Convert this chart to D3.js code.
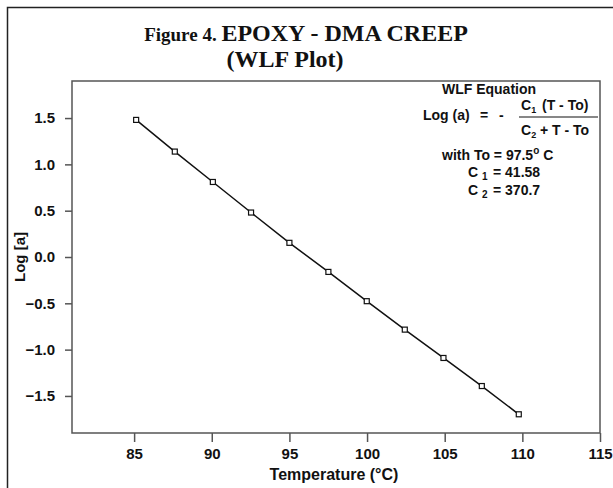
<!DOCTYPE html>
<html>
<head>
<meta charset="utf-8">
<script src="https://cdn.jsdelivr.net/npm/d3@7"></script>
<style>
	body { margin: 0; background: #fff; }
	svg text { font-family: "Liberation Sans", Arial, sans-serif; font-weight: bold; fill: #111; }
	.serif { font-family: "Liberation Serif", "Times New Roman", serif; }
</style>
</head>
<body>
<svg id="chart" width="613" height="488"></svg>
<script>
'use strict';
//Data: temperature (C) and log shift factor
var temps = [85.13, 87.62, 90.07, 92.53, 95.0, 97.51, 99.98, 102.43, 104.92, 107.39, 109.77];
var logA = [1.48, 1.138, 0.81, 0.48, 0.153, -0.161, -0.477, -0.784, -1.09, -1.393, -1.698];
var xTicks = [85, 90, 95, 100, 105, 110, 115];
var yTicks = [1.5, 1.0, 0.5, 0.0, -0.5, -1.0, -1.5];

var svg = d3.select('#chart');

//Plot area
var margin = {left: 72, top: 81, right: 600, bottom: 433};

var x = d3.scaleLinear().domain([81, 115]).range([margin.left, margin.right]);
var y = d3.scaleLinear().domain([-1.9, 1.9]).range([margin.bottom, margin.top]);

//Outer frame (runs past the page edge on right/bottom)
svg.append('path')
	.attr('d', 'M7.5,490V7.5H615')
	.attr('fill', 'none')
	.attr('stroke', '#222')
	.attr('stroke-width', 1.5);

//Title
var title = svg.append('text')
	.attr('class', 'serif')
	.attr('x', 306).attr('y', 41)
	.attr('text-anchor', 'middle');
title.append('tspan').style('font-size', '19px').text('Figure 4. ');
title.append('tspan').style('font-size', '24px').text('EPOXY - DMA CREEP');
svg.append('text')
	.attr('class', 'serif')
	.attr('x', 285).attr('y', 67)
	.attr('text-anchor', 'middle')
	.style('font-size', '24px')
	.text('(WLF Plot)');

//Plot box
svg.append('rect')
	.attr('x', margin.left).attr('y', margin.top)
	.attr('width', margin.right - margin.left)
	.attr('height', margin.bottom - margin.top)
	.attr('fill', 'none')
	.attr('stroke', '#555')
	.attr('stroke-width', 1.5);

//Axes
var xAxis = svg.append('g')
	.attr('transform', 'translate(0,' + margin.bottom + ')')
	.call(d3.axisBottom(x).tickValues(xTicks).tickSize(9).tickPadding(6)
		.tickFormat(d3.format('d')));
var yAxis = svg.append('g')
	.attr('transform', 'translate(' + margin.left + ',0)')
	.call(d3.axisLeft(y).tickValues(yTicks).tickSize(7).tickPadding(10)
		.tickFormat(d3.format('.1f')));
[xAxis, yAxis].forEach(function(a) {
	a.select('.domain').remove();
	a.selectAll('.tick line').attr('stroke', '#555').attr('stroke-width', 1.5);
	a.selectAll('.tick text').style('font-size', '15px')
		.style('font-family', '"Liberation Sans", Arial, sans-serif')
		.style('font-weight', 'bold').attr('fill', '#111');
});

//Axis titles
svg.append('text')
	.attr('x', 334).attr('y', 480)
	.attr('text-anchor', 'middle')
	.style('font-size', '16px')
	.text('Temperature (\u00B0C)');
svg.append('text')
	.attr('transform', 'translate(25,257) rotate(-90)')
	.attr('text-anchor', 'middle')
	.style('font-size', '15px')
	.text('Log [a]');

//Data line and markers
var pts = temps.map(function(t, i) { return [t, logA[i]]; });
svg.append('path')
	.datum(pts)
	.attr('fill', 'none')
	.attr('stroke', '#111')
	.attr('stroke-width', 1.5)
	.attr('d', d3.line().x(function(d) { return x(d[0]); }).y(function(d) { return y(d[1]); }));
svg.selectAll('rect.pt')
	.data(pts)
	.enter().append('rect')
		.attr('class', 'pt')
		.attr('x', function(d) { return x(d[0]) - 2.5; })
		.attr('y', function(d) { return y(d[1]) - 2.5; })
		.attr('width', 5).attr('height', 5)
		.attr('fill', '#fff')
		.attr('stroke', '#111')
		.attr('stroke-width', 1.2);

//WLF equation annotation
var eq = svg.append('g').style('font-size', '14px');
eq.append('text').attr('x', 489).attr('y', 94).attr('text-anchor', 'middle').text('WLF Equation');
eq.append('text').attr('x', 423).attr('y', 120).text('Log (a)');
eq.append('text').attr('x', 480).attr('y', 120).text('=');
eq.append('text').attr('x', 499).attr('y', 120).text('-');
var num = eq.append('text').attr('x', 521).attr('y', 110);
num.append('tspan').text('C');
num.append('tspan').attr('dy', 3).style('font-size', '9px').text('1');
num.append('tspan').attr('dy', -3).attr('x', 542).text('(T - To)');
eq.append('line').attr('x1', 519).attr('x2', 598).attr('y1', 117).attr('y2', 117)
	.attr('stroke', '#111').attr('stroke-width', 1.2);
var den = eq.append('text').attr('x', 521).attr('y', 135);
den.append('tspan').text('C');
den.append('tspan').attr('dy', 3).style('font-size', '9px').text('2');
den.append('tspan').attr('dy', -3).text(' + T - To');
var w = eq.append('text').attr('x', 442).attr('y', 160);
w.append('tspan').text('with To = 97.5');
w.append('tspan').attr('dy', -6).style('font-size', '10px').text('o');
w.append('tspan').attr('dy', 6).text(' C');
var c1 = eq.append('text').attr('x', 468).attr('y', 177);
c1.append('tspan').text('C');
c1.append('tspan').attr('dy', 3).attr('x', 482).style('font-size', '10px').text('1');
c1.append('tspan').attr('dy', -3).attr('x', 493).text('= 41.58');
var c2 = eq.append('text').attr('x', 468).attr('y', 195);
c2.append('tspan').text('C');
c2.append('tspan').attr('dy', 3).attr('x', 482).style('font-size', '10px').text('2');
c2.append('tspan').attr('dy', -3).attr('x', 493).text('= 370.7');
</script>
</body>
</html>
